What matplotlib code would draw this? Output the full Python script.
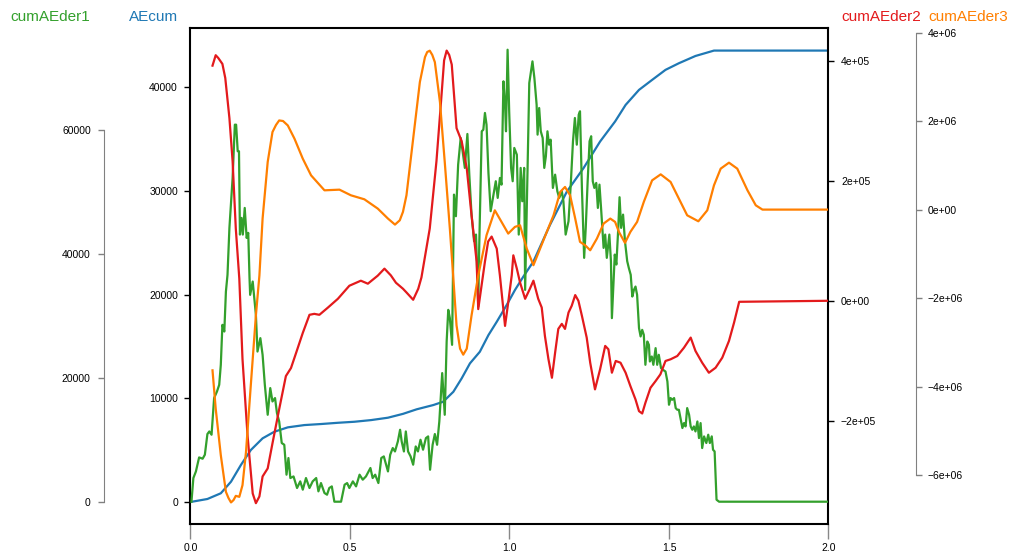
import numpy as np
import matplotlib.pyplot as plt

plt.rcParams['font.family'] = ['Liberation Sans', 'DejaVu Sans']

# AEcum (left axis, inside box)
x_cum = [0.000, 0.053, 0.095, 0.127, 0.158, 0.189, 0.226, 0.263, 0.305, 0.357, 0.409,
         0.462, 0.514, 0.566, 0.619, 0.666, 0.709, 0.761, 0.792, 0.824, 0.850, 0.876,
         0.907, 0.934, 0.960, 0.991, 1.017, 1.043, 1.075, 1.127, 1.180, 1.232, 1.284,
         1.331, 1.364, 1.406, 1.447, 1.489, 1.531, 1.583, 1.641, 2.000]
ae_cum = [0, 290, 840, 1960, 3570, 5010, 6140, 6780, 7200, 7420, 7520,
          7640, 7740, 7900, 8130, 8500, 8940, 9350, 9670, 10630, 11920, 13370,
          14490, 16100, 17380, 18990, 20440, 21720, 23200, 26730, 29950, 32200, 34770,
          36700, 38300, 39750, 40710, 41680, 42320, 43020, 43540, 43540]

# cumAEder1 (outer left axis)
x_d1 = [0.003, 0.009, 0.017, 0.027, 0.038, 0.045, 0.053, 0.059, 0.066, 0.074, 0.083,
        0.090, 0.095, 0.100, 0.106, 0.111, 0.116, 0.122, 0.132, 0.139, 0.143, 0.148,
        0.152, 0.155, 0.160, 0.164, 0.170, 0.176, 0.181, 0.185, 0.187, 0.195, 0.205,
        0.210, 0.219, 0.226, 0.233, 0.242, 0.250, 0.257, 0.265, 0.271, 0.278, 0.286,
        0.294, 0.301, 0.307, 0.313, 0.323, 0.334, 0.344, 0.352, 0.362, 0.373, 0.383,
        0.394, 0.401, 0.409, 0.420, 0.428, 0.435, 0.443, 0.451, 0.472, 0.483, 0.491,
        0.498, 0.509, 0.519, 0.530, 0.540, 0.550, 0.564, 0.571, 0.579, 0.589, 0.598,
        0.606, 0.619, 0.626, 0.634, 0.641, 0.650, 0.657, 0.662, 0.669, 0.675, 0.682,
        0.690, 0.698, 0.706, 0.713, 0.721, 0.729, 0.738, 0.745, 0.751, 0.759, 0.766,
        0.773, 0.780, 0.789, 0.797, 0.803, 0.808, 0.813, 0.820, 0.826, 0.832, 0.839,
        0.847, 0.853, 0.860, 0.868, 0.874, 0.881, 0.889, 0.895, 0.899, 0.902, 0.905,
        0.913, 0.918, 0.923, 0.928, 0.934, 0.941, 0.949, 0.957, 0.963, 0.970, 0.975,
        0.981, 0.986, 0.989, 0.994, 0.999, 1.005, 1.010, 1.015, 1.023, 1.029, 1.035,
        1.040, 1.046, 1.049, 1.062, 1.072, 1.078, 1.085, 1.088, 1.093, 1.098, 1.104,
        1.109, 1.114, 1.119, 1.124, 1.129, 1.136, 1.143, 1.150, 1.156, 1.164, 1.169,
        1.176, 1.185, 1.192, 1.199, 1.205, 1.211, 1.217, 1.221, 1.227, 1.234, 1.239,
        1.245, 1.251, 1.256, 1.261, 1.266, 1.272, 1.277, 1.282, 1.287, 1.295, 1.300,
        1.305, 1.313, 1.318, 1.321, 1.330, 1.335, 1.341, 1.345, 1.350, 1.356, 1.362,
        1.369, 1.374, 1.380, 1.385, 1.390, 1.395, 1.400, 1.406, 1.411, 1.416, 1.421,
        1.426, 1.432, 1.437, 1.440, 1.446, 1.451, 1.458, 1.463, 1.468, 1.475, 1.481,
        1.489, 1.495, 1.500, 1.505, 1.510, 1.516, 1.521, 1.526, 1.531, 1.536, 1.542,
        1.547, 1.552, 1.557, 1.563, 1.568, 1.573, 1.578, 1.583, 1.589, 1.594, 1.599,
        1.604, 1.610, 1.617, 1.623, 1.628, 1.634, 1.638, 1.643, 1.649, 1.657, 2.000]
ae_d1 = [0, 3820, 4890, 7150, 6940, 7580, 10920, 11340, 10810, 16730, 17790,
         18870, 22100, 28550, 27470, 33920, 36620, 44200, 52260, 60860, 60860, 56570,
         56570, 43120, 45810, 43120, 47420, 42580, 43390, 36130, 33390, 35540, 30160,
         24240, 26400, 23710, 18870, 14030, 18340, 16180, 16730, 14310, 12950, 9470,
         9190, 4360, 7050, 3820, 4080, 2210, 3280, 1940, 3820, 2210, 3280,
         3820, 1670, 3010, 1400, 1130, 2210, 2470, 0, 0, 2740, 3010,
         2210, 3280, 2470, 4360, 3550, 4080, 5440, 3820, 4360, 3010, 7050,
         7310, 4890, 7580, 8660, 8110, 9730, 11610, 9730, 8110, 11340, 8110,
         7310, 5970, 8920, 8110, 10000, 8390, 10270, 10540, 5160, 9190, 10920,
         9190, 12950, 20760, 14030, 25860, 30970, 29630, 25320, 49570, 46080, 54410,
         58710, 56570, 53880, 59360, 52790, 46340, 42050, 43120, 36660, 31500, 40970,
         59790, 60050, 62750, 60860, 53070, 46890, 49310, 51730, 49040, 52260, 51180,
         67860, 64090, 59790, 72960, 63020, 53880, 51730, 57100, 56020, 43120, 53880,
         48500, 53880, 34190, 67580, 71080, 68390, 64090, 59250, 63550, 59790, 58710,
         53880, 55760, 59790, 57630, 58440, 50650, 52790, 50110, 49040, 50110, 48500,
         43120, 45270, 51180, 58180, 61940, 57630, 62470, 63020, 50650, 39360, 44200,
         51730, 58180, 58990, 51730, 50650, 51460, 47420, 51180, 47420, 40970, 43120,
         39360, 43120, 38820, 29630, 39890, 38280, 44200, 49150, 44200, 46340, 42050,
         38820, 37740, 36620, 33120, 34190, 34730, 33390, 28020, 26670, 27740, 26940,
         22100, 25860, 25320, 22630, 23440, 22100, 24790, 22100, 23710, 21570, 21290,
         21020, 19400, 15650, 16730, 16450, 16730, 15110, 14840, 14840, 13500, 11890,
         12690, 12150, 15110, 14030, 12150, 11610, 12150, 11340, 12950, 10270, 12690,
         8660, 10540, 9470, 10810, 9470, 10540, 8390, 8110, 320, 0, 0]

# cumAEder2 (right axis on box)
x_d2 = [0.069, 0.079, 0.087, 0.100, 0.109, 0.122, 0.132, 0.142, 0.153, 0.163, 0.179, 0.195,
        0.205, 0.216, 0.226, 0.242, 0.257, 0.278, 0.299, 0.315, 0.331, 0.352, 0.373,
        0.388, 0.404, 0.430, 0.462, 0.498, 0.534, 0.556, 0.587, 0.608, 0.628, 0.644,
        0.666, 0.677, 0.698, 0.714, 0.724, 0.750, 0.771, 0.787, 0.795, 0.803, 0.811, 0.819, 0.834,
        0.850, 0.866, 0.881, 0.897, 0.902, 0.923, 0.933, 0.944, 0.960, 0.970, 0.986,
        0.996, 1.007, 1.012, 1.023, 1.033, 1.049, 1.064, 1.075, 1.090, 1.101, 1.111,
        1.122, 1.133, 1.143, 1.153, 1.164, 1.174, 1.185, 1.195, 1.206, 1.216, 1.227,
        1.242, 1.253, 1.268, 1.284, 1.300, 1.310, 1.321, 1.333, 1.348, 1.364, 1.379,
        1.395, 1.406, 1.416, 1.426, 1.442, 1.458, 1.473, 1.489, 1.505, 1.526, 1.547,
        1.568, 1.583, 1.604, 1.625, 1.646, 1.667, 1.688, 1.704, 1.720, 2.000]
ae_d2 = [392200, 409600, 405000, 395100, 371600, 304700, 232700, 120500, 36800, -97100, -226000, -321400,
         -337600, -326400, -293000, -279600, -237700, -180800, -125600, -112200, -87000, -53600, -23400,
         -21800, -23400, -11700, 3300, 25100, 33500, 28500, 41900, 53600, 42400, 30100,
         20100, 13900, 1700, 20100, 39000, 120500, 232700, 343700, 401000, 417300, 410000, 393900, 287900,
         266200, 221000, 142800, 65300, -13900, 65300, 98800, 107100, 87000, 41900, -41900,
         -2800, 42400, 75800, 53600, 30600, 3300, 20100, 33500, 3300, -11200, -58600,
         -97100, -128400, -86500, -46900, -38500, -46900, -19600, -8400, 9500, 0, -25100,
         -61400, -103300, -147800, -114300, -75300, -80900, -120000, -100400, -103300, -120000, -142300,
         -164600, -184100, -188000, -170200, -145100, -133900, -122700, -100400, -97600, -92100, -78200,
         -61400, -83700, -103300, -120000, -111700, -94900, -67000, -36300, -1700, 0]

# cumAEder3 (outer right axis)
x_d3 = [0.069, 0.079, 0.095, 0.111, 0.119, 0.127, 0.135, 0.142, 0.153, 0.163, 0.174, 0.189, 0.205,
        0.216, 0.226, 0.242, 0.257, 0.268, 0.278, 0.290, 0.305, 0.326, 0.352, 0.378, 0.420, 0.467,
        0.503, 0.545, 0.587, 0.619, 0.641, 0.656, 0.666, 0.677, 0.698, 0.719, 0.735,
        0.742, 0.750, 0.758, 0.766, 0.782, 0.797, 0.813, 0.824, 0.834, 0.845, 0.855, 0.866, 0.881,
        0.902, 0.928, 0.954, 0.975, 0.996, 1.017, 1.033, 1.054, 1.075, 1.096, 1.117,
        1.138, 1.159, 1.174, 1.190, 1.206, 1.221, 1.237, 1.253, 1.274, 1.295, 1.316,
        1.331, 1.343, 1.362, 1.379, 1.400, 1.421, 1.447, 1.474, 1.505, 1.531, 1.557,
        1.592, 1.620, 1.641, 1.662, 1.688, 1.714, 1.746, 1.772, 1.793, 2.000]
ae_d3 = [-3634000, -4499000, -5553000, -6381000, -6520000, -6621000, -6566000, -6472000, -6494000, -6230000, -5478000, -3973000, -2393000,
         -1490000, -203000, 1077000, 1754000, 1913000, 2016000, 2003000, 1903000, 1603000, 1151000, 774000, 436000, 451000,
         323000, 233000, 23000, -203000, -339000, -242000, -52000, 323000, 1603000, 2883000, 3447000,
         3563000, 3593000, 3496000, 3334000, 2431000, 1077000, -429000, -1558000, -2618000, -3144000, -3280000, -3144000, -2393000,
         -1490000, -580000, -16000, -278000, -542000, -391000, -354000, -880000, -1257000, -880000, -503000,
         -129000, 400000, 512000, 323000, -203000, -729000, -806000, -919000, -655000, -316000, -203000,
         -278000, -503000, -752000, -503000, -278000, 174000, 661000, 797000, 625000, 248000, -129000,
         -264000, -16000, 549000, 926000, 1061000, 926000, 436000, 97000, 0, 0]

c_blue, c_green, c_red, c_orange = '#1f78b4', '#33a02c', '#e31a1c', '#ff7f00'
W, H = 1012, 557

fig = plt.figure(figsize=(W / 100, H / 100), dpi=100)
ax = fig.add_axes([190.5 / W, 33.5 / H, 638 / W, 495.5 / H])

ax.plot(x_cum, ae_cum, color=c_blue, lw=1.6)
ax.set_xlim(0, 2)
ax.set_ylim(-2074, 45718)
for s in ax.spines.values():
    s.set_color('black')
    s.set_linewidth(1.5)
ax.set_xticks([0, 0.5, 1.0, 1.5, 2.0])
ax.set_xticklabels(['0.0', '0.5', '1.0', '1.5', '2.0'])
ax.tick_params(axis='x', length=11, color='#888888', width=1, pad=3, labelsize=7.5)
ax.set_yticks([0, 10000, 20000, 30000, 40000])
ax.tick_params(axis='y', length=4, width=1, pad=5, labelsize=7.5)

# cumAEder1, detached left axis
ax_g = ax.twinx()
ax_g.plot(x_d1, ae_d1, color=c_green, lw=1.6)
ax_g.set_ylim(-3519, 76465)
for k in ['right', 'top', 'bottom']:
    ax_g.spines[k].set_visible(False)
ax_g.spines['left'].set_visible(True)
ax_g.spines['left'].set_position(('axes', (104 - 190.5) / 638))
ax_g.spines['left'].set_bounds(0, 60000)
ax_g.spines['left'].set_color('#808080')
ax_g.yaxis.set_ticks_position('left')
ax_g.set_yticks([0, 20000, 40000, 60000])
ax_g.tick_params(axis='y', length=4.5, width=1, color='#808080', pad=5, labelsize=7.5)

# cumAEder2, on box right side
ax_r = ax.twinx()
ax_r.plot(x_d2, ae_d2, color=c_red, lw=1.6)
ax_r.set_ylim(-371500, 455000)
for s in ax_r.spines.values():
    s.set_visible(False)
ax_r.set_yticks([-200000, 0, 200000, 400000])
ax_r.set_yticklabels(['\u22122e+05', '0e+00', '2e+05', '4e+05'])
ax_r.tick_params(axis='y', length=4, width=1, pad=5, labelsize=7.5)

# cumAEder3, detached right axis
ax_o = ax.twinx()
ax_o.plot(x_d3, ae_d3, color=c_orange, lw=1.6)
ax_o.set_ylim(-7097000, 4106000)
for k in ['left', 'top', 'bottom']:
    ax_o.spines[k].set_visible(False)
ax_o.spines['right'].set_position(('axes', (916 - 190.5) / 638))
ax_o.spines['right'].set_bounds(-6e6, 4e6)
ax_o.spines['right'].set_color('#808080')
ax_o.set_yticks([-6e6, -4e6, -2e6, 0, 2e6, 4e6])
ax_o.set_yticklabels(['\u22126e+06', '\u22124e+06', '\u22122e+06', '0e+00', '2e+06', '4e+06'])
ax_o.tick_params(axis='y', length=4.5, width=1, color='#808080', pad=4, labelsize=7.5)

ty = 1 - 17 / H
fig.text(90.5 / W, ty, 'cumAEder1', color=c_green, fontsize=11, ha='right', va='center')
fig.text(178 / W, ty, 'AEcum', color=c_blue, fontsize=11, ha='right', va='center')
fig.text(841 / W, ty, 'cumAEder2', color=c_red, fontsize=11, ha='left', va='center')
fig.text(928 / W, ty, 'cumAEder3', color=c_orange, fontsize=11, ha='left', va='center')

fig.savefig('out.png', dpi=100)
